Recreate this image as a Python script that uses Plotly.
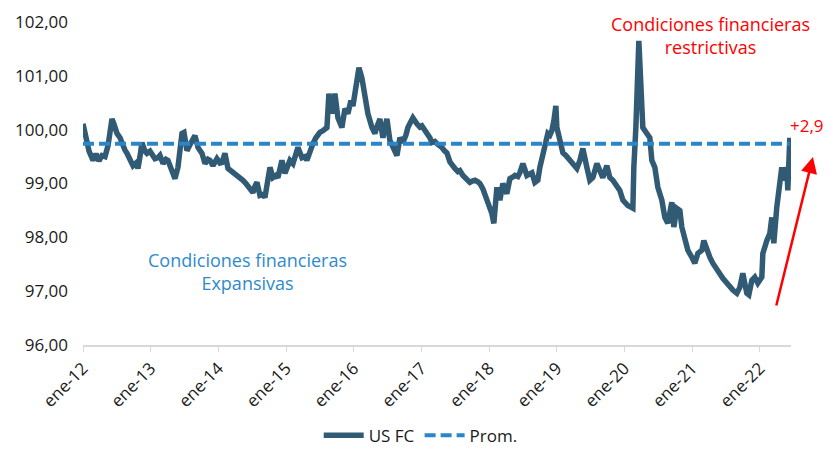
import plotly.graph_objects as go

## ----------- data ----------- ##
# fecha en años decimales (ene-12 = 2012.0) y nivel del índice US FC
YEARS = [
    2012.000, 2012.044, 2012.089, 2012.148, 2012.192, 2012.236, 2012.281, 2012.325, 2012.369, 2012.399,
    2012.428, 2012.458, 2012.502, 2012.547, 2012.576, 2012.620, 2012.650, 2012.694, 2012.739, 2012.783,
    2012.812, 2012.842, 2012.871, 2012.916, 2012.945, 2012.990, 2013.034, 2013.063, 2013.108, 2013.137,
    2013.182, 2013.226, 2013.255, 2013.300, 2013.329, 2013.359, 2013.403, 2013.433, 2013.462, 2013.492,
    2013.521, 2013.536, 2013.580, 2013.610, 2013.654, 2013.699, 2013.758, 2013.802, 2013.846, 2013.876,
    2013.920, 2013.979, 2014.023, 2014.053, 2014.097, 2014.142, 2014.186, 2014.216, 2014.260, 2014.289,
    2014.334, 2014.363, 2014.408, 2014.437, 2014.481, 2014.511, 2014.540, 2014.570, 2014.614, 2014.659,
    2014.688, 2014.732, 2014.762, 2014.806, 2014.851, 2014.880, 2014.939, 2014.984, 2015.028, 2015.057,
    2015.102, 2015.161, 2015.176, 2015.235, 2015.279, 2015.308, 2015.353, 2015.397, 2015.441, 2015.471,
    2015.500, 2015.545, 2015.604, 2015.633, 2015.678, 2015.722, 2015.766, 2015.825, 2015.870, 2015.914,
    2015.958, 2015.988, 2016.017, 2016.047, 2016.077, 2016.121, 2016.165, 2016.209, 2016.269, 2016.313,
    2016.342, 2016.387, 2016.431, 2016.490, 2016.534, 2016.579, 2016.638, 2016.682, 2016.726, 2016.771,
    2016.800, 2016.845, 2016.874, 2016.933, 2016.977, 2017.007, 2017.051, 2017.081, 2017.125, 2017.155,
    2017.199, 2017.229, 2017.273, 2017.302, 2017.347, 2017.376, 2017.421, 2017.465, 2017.494, 2017.539,
    2017.568, 2017.613, 2017.642, 2017.686, 2017.716, 2017.760, 2017.790, 2017.834, 2017.864, 2017.908,
    2017.938, 2017.982, 2018.011, 2018.041, 2018.070, 2018.085, 2018.115, 2018.159, 2018.203, 2018.262,
    2018.307, 2018.351, 2018.381, 2018.425, 2018.454, 2018.499, 2018.558, 2018.602, 2018.632, 2018.676,
    2018.720, 2018.750, 2018.779, 2018.824, 2018.868, 2018.898, 2018.927, 2018.957, 2018.986, 2019.001,
    2019.045, 2019.090, 2019.134, 2019.163, 2019.208, 2019.237, 2019.296, 2019.341, 2019.385, 2019.444,
    2019.488, 2019.533, 2019.592, 2019.636, 2019.680, 2019.739, 2019.784, 2019.828, 2019.887, 2019.931,
    2019.976, 2020.020, 2020.050, 2020.094, 2020.124, 2020.138, 2020.168, 2020.212, 2020.242, 2020.256,
    2020.271, 2020.330, 2020.374, 2020.404, 2020.448, 2020.493, 2020.552, 2020.596, 2020.640, 2020.699,
    2020.729, 2020.773, 2020.818, 2020.847, 2020.892, 2020.936, 2020.995, 2021.039, 2021.084, 2021.143,
    2021.172, 2021.217, 2021.261, 2021.305, 2021.364, 2021.408, 2021.453, 2021.512, 2021.556, 2021.601,
    2021.660, 2021.704, 2021.748, 2021.807, 2021.837, 2021.881, 2021.925, 2021.970, 2022.029, 2022.044,
    2022.103, 2022.147, 2022.177, 2022.206, 2022.250, 2022.280, 2022.324, 2022.354, 2022.398, 2022.413,
    2022.442,
]

US_FC = [
    100.11, 99.85, 99.60, 99.43, 99.55, 99.42, 99.52, 99.50, 99.70, 99.95,
    100.20, 100.10, 99.93, 99.85, 99.74, 99.62, 99.56, 99.45, 99.33, 99.38,
    99.28, 99.50, 99.76, 99.60, 99.56, 99.60, 99.50, 99.46, 99.48, 99.52,
    99.37, 99.45, 99.43, 99.30, 99.20, 99.09, 99.30, 99.60, 99.93, 99.95,
    99.70, 99.61, 99.72, 99.80, 99.89, 99.67, 99.56, 99.37, 99.45, 99.43,
    99.33, 99.46, 99.38, 99.39, 99.56, 99.28, 99.24, 99.20, 99.18, 99.15,
    99.10, 99.06, 99.00, 98.96, 98.88, 98.83, 98.95, 99.02, 98.78, 98.80,
    98.74, 99.11, 99.30, 99.11, 99.15, 99.11, 99.43, 99.19, 99.35, 99.43,
    99.37, 99.56, 99.67, 99.48, 99.50, 99.43, 99.61, 99.74, 99.85, 99.93,
    99.95, 99.98, 100.04, 100.67, 100.30, 100.67, 100.22, 100.04, 100.39, 100.30,
    100.54, 100.44, 100.70, 100.96, 101.15, 100.96, 100.59, 100.30, 100.04, 99.93,
    100.05, 100.20, 99.85, 100.20, 99.80, 99.67, 99.52, 99.85, 99.76, 99.90,
    100.04, 100.15, 100.22, 100.11, 100.05, 100.07, 100.00, 99.94, 99.85, 99.76,
    99.78, 99.74, 99.70, 99.67, 99.60, 99.57, 99.40, 99.30, 99.28, 99.22,
    99.24, 99.15, 99.11, 99.05, 99.02, 99.05, 99.06, 99.03, 99.00, 98.90,
    98.81, 98.63, 98.55, 98.44, 98.26, 98.60, 98.93, 98.69, 99.00, 98.81,
    99.09, 99.12, 99.15, 99.13, 99.20, 99.37, 99.15, 99.18, 99.20, 99.02,
    99.06, 99.30, 99.48, 99.67, 99.93, 99.90, 99.98, 100.17, 100.44, 100.04,
    99.74, 99.57, 99.52, 99.48, 99.42, 99.37, 99.28, 99.43, 99.65, 99.30,
    99.06, 99.11, 99.37, 99.24, 99.11, 99.33, 99.11, 99.06, 98.93, 98.87,
    98.69, 98.62, 98.59, 98.56, 98.54, 99.30, 100.04, 101.65, 101.00, 100.72,
    100.04, 99.93, 99.85, 99.43, 99.30, 98.93, 98.69, 98.37, 98.26, 98.65,
    98.19, 98.54, 98.50, 98.19, 97.94, 97.76, 97.63, 97.52, 97.70, 97.76,
    97.94, 97.76, 97.63, 97.52, 97.39, 97.33, 97.24, 97.15, 97.07, 97.02,
    96.96, 97.07, 97.33, 96.96, 96.93, 97.20, 97.26, 97.15, 97.26, 97.70,
    97.94, 98.07, 98.37, 97.89, 98.56, 98.81, 99.30, 99.06, 99.30, 98.87,
    99.85,
]

PROM = 99.74

TICK_YEARS = [2012, 2013, 2014, 2015, 2016, 2017, 2018, 2019, 2020, 2021, 2022]
TICK_TEXT = ["ene-12", "ene-13", "ene-14", "ene-15", "ene-16", "ene-17",
             "ene-18", "ene-19", "ene-20", "ene-21", "ene-22"]

## ----------- styles ----------- ##
FONT = "Open Sans"
LINE_COLOR = "#315B75"
AVG_COLOR = "#2A86C8"
RED = "#FF0000"
BLUE_TXT = "#2E8BCB"

## ----------- plot ----------- ##
fig = go.Figure()

fig.add_trace(go.Scatter(
    x=YEARS, y=US_FC,
    mode="lines",
    name="US FC",
    line=dict(color=LINE_COLOR, width=5.5),
))

fig.add_trace(go.Scatter(
    x=[YEARS[0], YEARS[-1]], y=[PROM, PROM],
    mode="lines",
    name="Prom.",
    line=dict(color=AVG_COLOR, width=4, dash="11px,5px"),
))

# textos
fig.add_annotation(
    xref="paper", yref="paper", x=0.887, y=0.957,
    xanchor="center", yanchor="middle",
    text="Condiciones financieras<br>restrictivas",
    showarrow=False, align="center",
    font=dict(family=FONT, size=18, color=RED),
)
fig.add_annotation(
    xref="paper", yref="paper", x=0.232, y=0.229,
    xanchor="center", yanchor="middle",
    text="Condiciones financieras<br>Expansivas",
    showarrow=False, align="center",
    font=dict(family=FONT, size=18, color=BLUE_TXT),
)
fig.add_annotation(
    xref="paper", yref="paper", x=1.022, y=0.681,
    xanchor="center", yanchor="middle",
    text="+2,9",
    showarrow=False,
    font=dict(family=FONT, size=17, color=RED),
)
# flecha
fig.add_annotation(
    xref="paper", yref="paper", x=1.031, y=0.582,
    ax=-37, ay=150,
    text="", showarrow=True,
    arrowhead=2, arrowsize=1.3, arrowwidth=2.5, arrowcolor=RED,
)

# la página tiene 8 px de margen en body: la figura ocupa el resto de la ventana
fig.update_layout(
    width=825, height=441,
    margin=dict(l=75, r=42, t=14, b=104),
    plot_bgcolor="white",
    paper_bgcolor="white",
    separators=",.",
    font=dict(family=FONT, size=17, color="#1a1a1a"),
    showlegend=True,
    legend=dict(
        orientation="h",
        xref="paper", x=0.477, xanchor="center",
        yref="container", y=0.03, yanchor="middle",
        font=dict(family=FONT, size=17, color="#1a1a1a"),
        itemwidth=40,
    ),
    xaxis=dict(
        range=[2012, 2022.46],
        automargin=False,
        tickmode="array",
        tickvals=TICK_YEARS,
        ticktext=TICK_TEXT,
        tickangle=-45,
        showgrid=False,
        zeroline=False,
        showline=True,
        linecolor="#D9D9D9",
        linewidth=1.5,
        ticks="outside",
        ticklen=5,
        tickcolor="#D9D9D9",
        tickfont=dict(family=FONT, size=17, color="#1a1a1a"),
    ),
    yaxis=dict(
        range=[96, 102],
        automargin=False,
        dtick=1,
        tickformat=".2f",
        showgrid=False,
        zeroline=False,
        showline=False,
        ticklabelstandoff=14,
        tickfont=dict(family=FONT, size=17, color="#1a1a1a"),
    ),
)

fig.write_html("out.html")
